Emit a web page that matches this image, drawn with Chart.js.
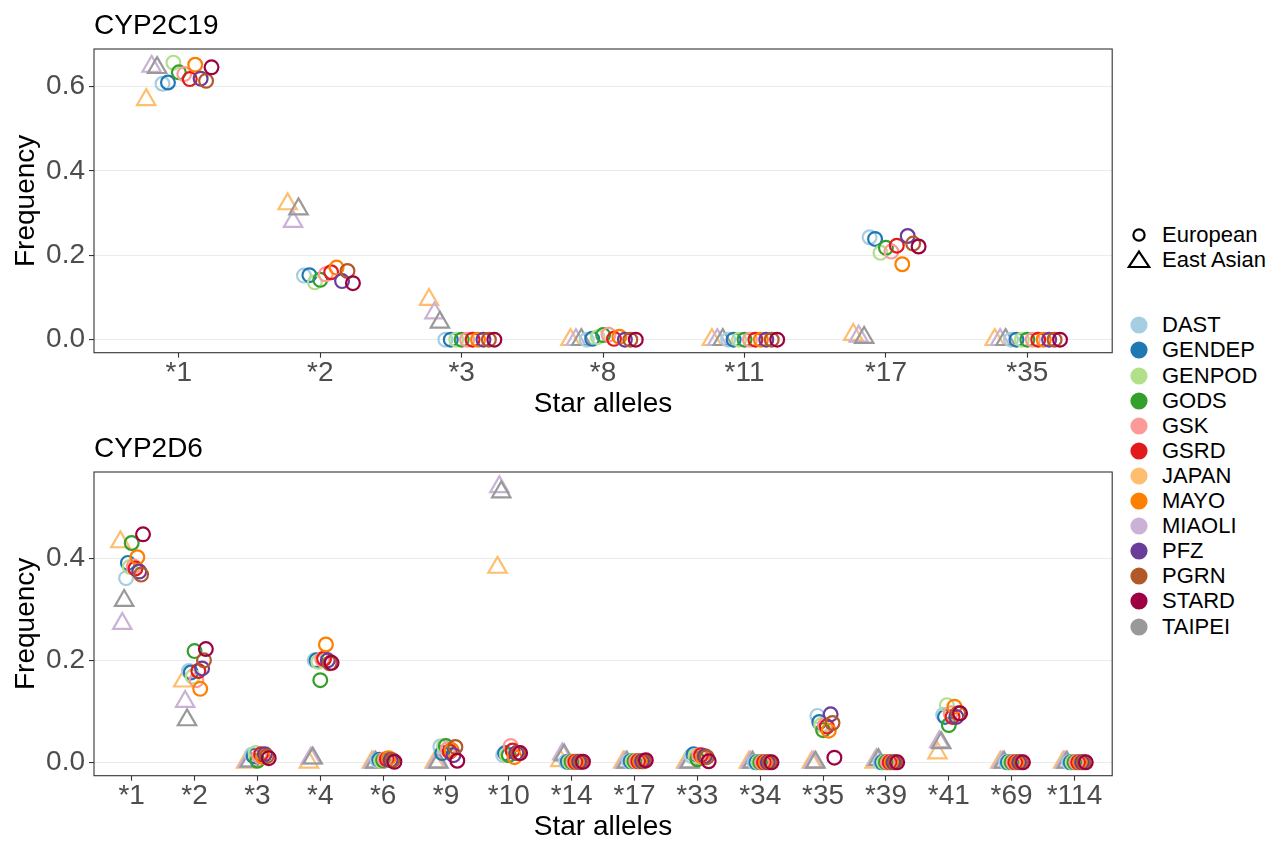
<!DOCTYPE html>
<html>
<head>
<meta charset="utf-8">
<title>CYP2C19 / CYP2D6 star allele frequencies</title>
<script src="https://cdn.jsdelivr.net/npm/chart.js@4.4.0/dist/chart.umd.min.js"></script>
<style>
  html, body { margin: 0; padding: 0; background: #fff; }
  body { width: 1285px; height: 843px; position: relative; overflow: hidden;
         font-family: "Liberation Sans", Arial, Helvetica, sans-serif; }
  canvas { position: absolute; left: 0; }
  #cyp2c19 { top: 0; }
  #cyp2d6 { top: 420px; }
  .key { position: absolute; left: 1126px; height: 22px; line-height: 22px;
         font-size: 22px; color: #000; white-space: nowrap; }
  .key svg { position: absolute; left: 0; top: -4px; }
  .key span { position: absolute; left: 36px; top: 0; }
</style>
</head>
<body>
<canvas id="cyp2c19" width="1125" height="420"></canvas>
<canvas id="cyp2d6" width="1125" height="423"></canvas>
<div id="legend"></div>

<script>
// ---- study cohorts ----
const studies = ['DAST', 'GENDEP', 'GENPOD', 'GODS', 'GSK', 'GSRD', 'JAPAN',
                 'MAYO', 'MIAOLI', 'PFZ', 'PGRN', 'STARD', 'TAIPEI'];
const eastAsianStudies = ['JAPAN', 'MIAOLI', 'TAIPEI'];
const populations = ['European', 'East Asian'];
// side-by-side placement order inside each allele
const dodgeOrder = ['JAPAN', 'MIAOLI', 'TAIPEI', 'DAST', 'GENDEP', 'GENPOD', 'GODS',
                    'GSK', 'GSRD', 'MAYO', 'PFZ', 'PGRN', 'STARD'];

// ---- CYP2C19 ----
const cyp2c19Alleles = ['*1', '*2', '*3', '*8', '*11', '*17', '*35'];
const cyp2c19Ticks = [0, 0.2, 0.4, 0.6];
const cyp2c19 = {
  DAST:   [0.607, 0.152, 0.000, 0.000, 0.000, 0.243, 0.000],
  GENDEP: [0.610, 0.153, 0.000, 0.002, 0.000, 0.239, 0.000],
  GENPOD: [0.657, 0.136, 0.000, 0.006, 0.000, 0.206, 0.000],
  GODS:   [0.634, 0.142, 0.000, 0.011, 0.000, 0.218, 0.000],
  GSK:    [0.630, 0.155, 0.000, 0.012, 0.000, 0.209, 0.000],
  GSRD:   [0.618, 0.160, 0.000, 0.002, 0.000, 0.223, 0.000],
  JAPAN:  [0.569, 0.322, 0.095, 0.000, 0.000, 0.012, 0.000],
  MAYO:   [0.652, 0.171, 0.000, 0.007, 0.000, 0.179, 0.000],
  MIAOLI: [0.648, 0.280, 0.063, 0.000, 0.000, 0.008, 0.000],
  PFZ:    [0.619, 0.139, 0.000, 0.000, 0.000, 0.246, 0.000],
  PGRN:   [0.614, 0.163, 0.000, 0.000, 0.000, 0.228, 0.000],
  STARD:  [0.646, 0.134, 0.000, 0.000, 0.000, 0.221, 0.000],
  TAIPEI: [0.645, 0.310, 0.041, 0.000, 0.000, 0.005, 0.000]
};

// ---- CYP2D6 ----
const cyp2d6Alleles = ['*1', '*2', '*3', '*4', '*6', '*9', '*10', '*14', '*17',
                       '*33', '*34', '*35', '*39', '*41', '*69', '*114'];
const cyp2d6Ticks = [0, 0.2, 0.4];
const cyp2d6 = {
  DAST:   [0.361, 0.179, 0.015, 0.200, 0.004, 0.031, 0.014, 0.001, 0.002, 0.012, 0, 0.091, 0,     0.093, 0, 0],
  GENDEP: [0.391, 0.176, 0.012, 0.200, 0.005, 0.018, 0.018, 0.001, 0.002, 0.016, 0, 0.079, 0,     0.089, 0, 0],
  GENPOD: [0.383, 0.168, 0.018, 0.197, 0.003, 0.032, 0.014, 0.001, 0.002, 0.012, 0, 0.073, 0,     0.112, 0, 0],
  GODS:   [0.430, 0.218, 0.003, 0.161, 0.004, 0.032, 0.014, 0.001, 0.002, 0.006, 0, 0.063, 0,     0.073, 0, 0],
  GSK:    [0.384, 0.161, 0.012, 0.202, 0.006, 0.026, 0.032, 0.001, 0.002, 0.014, 0, 0.073, 0,     0.096, 0, 0],
  GSRD:   [0.380, 0.179, 0.016, 0.203, 0.006, 0.021, 0.023, 0.001, 0.002, 0.014, 0, 0.070, 0,     0.089, 0, 0],
  JAPAN:  [0.432, 0.159, 0.000, 0.000, 0.000, 0.000, 0.382, 0.003, 0.000, 0.000, 0, 0.000, 0,     0.018, 0, 0],
  MAYO:   [0.402, 0.144, 0.010, 0.231, 0.008, 0.024, 0.010, 0.001, 0.002, 0.010, 0, 0.062, 0,     0.109, 0, 0],
  MIAOLI: [0.272, 0.119, 0.002, 0.008, 0.000, 0.000, 0.540, 0.016, 0.000, 0.000, 0, 0.000, 0.005, 0.040, 0, 0],
  PFZ:    [0.374, 0.184, 0.016, 0.200, 0.004, 0.014, 0.018, 0.001, 0.002, 0.012, 0, 0.094, 0,     0.089, 0, 0],
  PGRN:   [0.368, 0.200, 0.012, 0.194, 0.004, 0.030, 0.018, 0.001, 0.002, 0.010, 0, 0.077, 0,     0.096, 0, 0],
  STARD:  [0.447, 0.222, 0.008, 0.195, 0.001, 0.003, 0.018, 0.001, 0.004, 0.002, 0, 0.009, 0,     0.096, 0, 0],
  TAIPEI: [0.317, 0.083, 0.002, 0.008, 0.000, 0.000, 0.530, 0.014, 0.000, 0.000, 0, 0.000, 0.005, 0.038, 0, 0]
};

// ---- styling ----
const studyColors = {
  DAST: '#A6CEE3', GENDEP: '#1F78B4', GENPOD: '#B2DF8A', GODS: '#33A02C',
  GSK: '#FB9A99', GSRD: '#E31A1C', JAPAN: '#FDBF6F', MAYO: '#FF7F00',
  MIAOLI: '#CAB2D6', PFZ: '#6A3D9A', PGRN: '#B15928', STARD: '#9E0142',
  TAIPEI: '#999999'
};
const FONT = '"Liberation Sans", Arial, Helvetica, sans-serif';
const TICK_GREY = '#4D4D4D';
const FRAME = '#333333';

// panel frame drawn over the points, like a bordered panel
const panelFrame = {
  id: 'panelFrame',
  afterDraw(chart) {
    const { ctx, chartArea: a } = chart;
    ctx.save();
    ctx.strokeStyle = FRAME;
    ctx.lineWidth = 1.1;
    ctx.strokeRect(a.left, a.top, a.right - a.left, a.bottom - a.top);
    ctx.restore();
  }
};

// gene name above the panel, left aligned with the frame
const panelTitle = {
  id: 'panelTitle',
  afterDraw(chart, args, opts) {
    const { ctx, chartArea: a } = chart;
    ctx.save();
    ctx.fillStyle = '#000';
    ctx.font = `28px ${FONT}`;
    ctx.textAlign = 'left';
    ctx.textBaseline = 'alphabetic';
    ctx.fillText(opts.text, a.left, opts.baseline);
    ctx.restore();
  }
};

function buildPanel(canvasId, gene, alleles, values, yTicks, layout) {
  const datasets = studies.map(s => {
    const k = dodgeOrder.indexOf(s);
    const asian = eastAsianStudies.includes(s);
    return {
      label: s,
      data: values[s].map((v, i) => ({ x: i + 1 + (k - 6) * layout.step, y: v })),
      showLine: false,
      pointStyle: asian ? 'triangle' : 'circle',
      pointRadius: asian ? 10.6 : 6.9,
      pointBorderWidth: 2.2,
      pointBorderColor: studyColors[s],
      pointBackgroundColor: 'rgba(0,0,0,0)',
      borderColor: studyColors[s],
      backgroundColor: 'rgba(0,0,0,0)',
      order: 13 - k
    };
  });

  return new Chart(document.getElementById(canvasId), {
    type: 'scatter',
    data: { datasets },
    options: {
      responsive: false,
      animation: false,
      events: [],
      layout: { padding: { top: layout.top, right: 9, left: 0, bottom: 0 } },
      plugins: {
        legend: { display: false },
        tooltip: { enabled: false },
        panelTitle: { text: gene, baseline: layout.titleBaseline }
      },
      scales: {
        x: {
          type: 'linear',
          min: 0.4,
          max: alleles.length + 0.6,
          afterBuildTicks: s => { s.ticks = alleles.map((a, i) => ({ value: i + 1 })); },
          afterFit: s => {
            s.height = layout.xAxisHeight;
            s.paddingLeft = 0;
            s.paddingRight = 0;
          },
          border: { display: false },
          grid: { drawOnChartArea: false, drawTicks: true, tickLength: 5,
                  tickColor: FRAME, tickWidth: 1.1 },
          ticks: {
            autoSkip: false, maxRotation: 0, minRotation: 0, padding: 2,
            color: TICK_GREY,
            font: { family: FONT, size: 28, lineHeight: 1 },
            callback: v => alleles[Math.round(v) - 1]
          },
          title: {
            display: true, text: 'Star alleles', color: '#000',
            font: { family: FONT, size: 28, lineHeight: 1.1 },
            padding: { top: 0, bottom: 0 }
          }
        },
        y: {
          type: 'linear',
          min: layout.yMin,
          max: layout.yMax,
          afterBuildTicks: s => { s.ticks = yTicks.map(v => ({ value: v })); },
          afterFit: s => {
            s.width = 94;
            s.paddingTop = 0;
            s.paddingBottom = 0;
          },
          border: { display: false },
          grid: { color: '#EBEBEB', lineWidth: 1.1, drawTicks: true, tickLength: 5,
                  tickColor: FRAME, tickWidth: 1.1 },
          ticks: {
            padding: 4, color: TICK_GREY,
            font: { family: FONT, size: 28, lineHeight: 1 },
            callback: v => v.toFixed(1)
          },
          title: {
            display: true, text: 'Frequency', color: '#000',
            font: { family: FONT, size: 28, lineHeight: 1.1 },
            padding: { top: 11, bottom: 0 }
          }
        }
      }
    },
    plugins: [panelFrame, panelTitle]
  });
}

buildPanel('cyp2c19', 'CYP2C19', cyp2c19Alleles, cyp2c19, cyp2c19Ticks, {
  top: 49, titleBaseline: 34, xAxisHeight: 67.3,
  yMin: -0.0308, yMax: 0.6894, step: 0.0385
});
buildPanel('cyp2d6', 'CYP2D6', cyp2d6Alleles, cyp2d6, cyp2d6Ticks, {
  top: 52, titleBaseline: 36.7, xAxisHeight: 67.3,
  yMin: -0.0263, yMax: 0.5692, step: 0.030
});

// ---- legend: population shapes, then study colours ----
const legend = document.getElementById('legend');
function addKey(centerY, svgInner, text) {
  const row = document.createElement('div');
  row.className = 'key';
  row.style.top = (centerY - 11) + 'px';
  row.innerHTML = `<svg width="28" height="30" viewBox="0 0 28 30">${svgInner}</svg>`;
  const label = document.createElement('span');
  label.textContent = text;
  row.appendChild(label);
  legend.appendChild(row);
}
const shapeSvg = {
  'European': '<circle cx="13" cy="15" r="5.6" fill="none" stroke="#000" stroke-width="2.2"/>',
  'East Asian': '<polygon points="13,6.5 23.2,22 2.8,22" fill="none" stroke="#000" stroke-width="2.2" stroke-linejoin="miter"/>'
};
populations.forEach((p, i) => addKey(235 + i * 25, shapeSvg[p], p));
studies.forEach((s, i) => addKey(325.3 + i * 25.1,
  `<circle cx="13" cy="15" r="8.6" fill="${studyColors[s]}"/>`, s));
</script>
</body>
</html>
